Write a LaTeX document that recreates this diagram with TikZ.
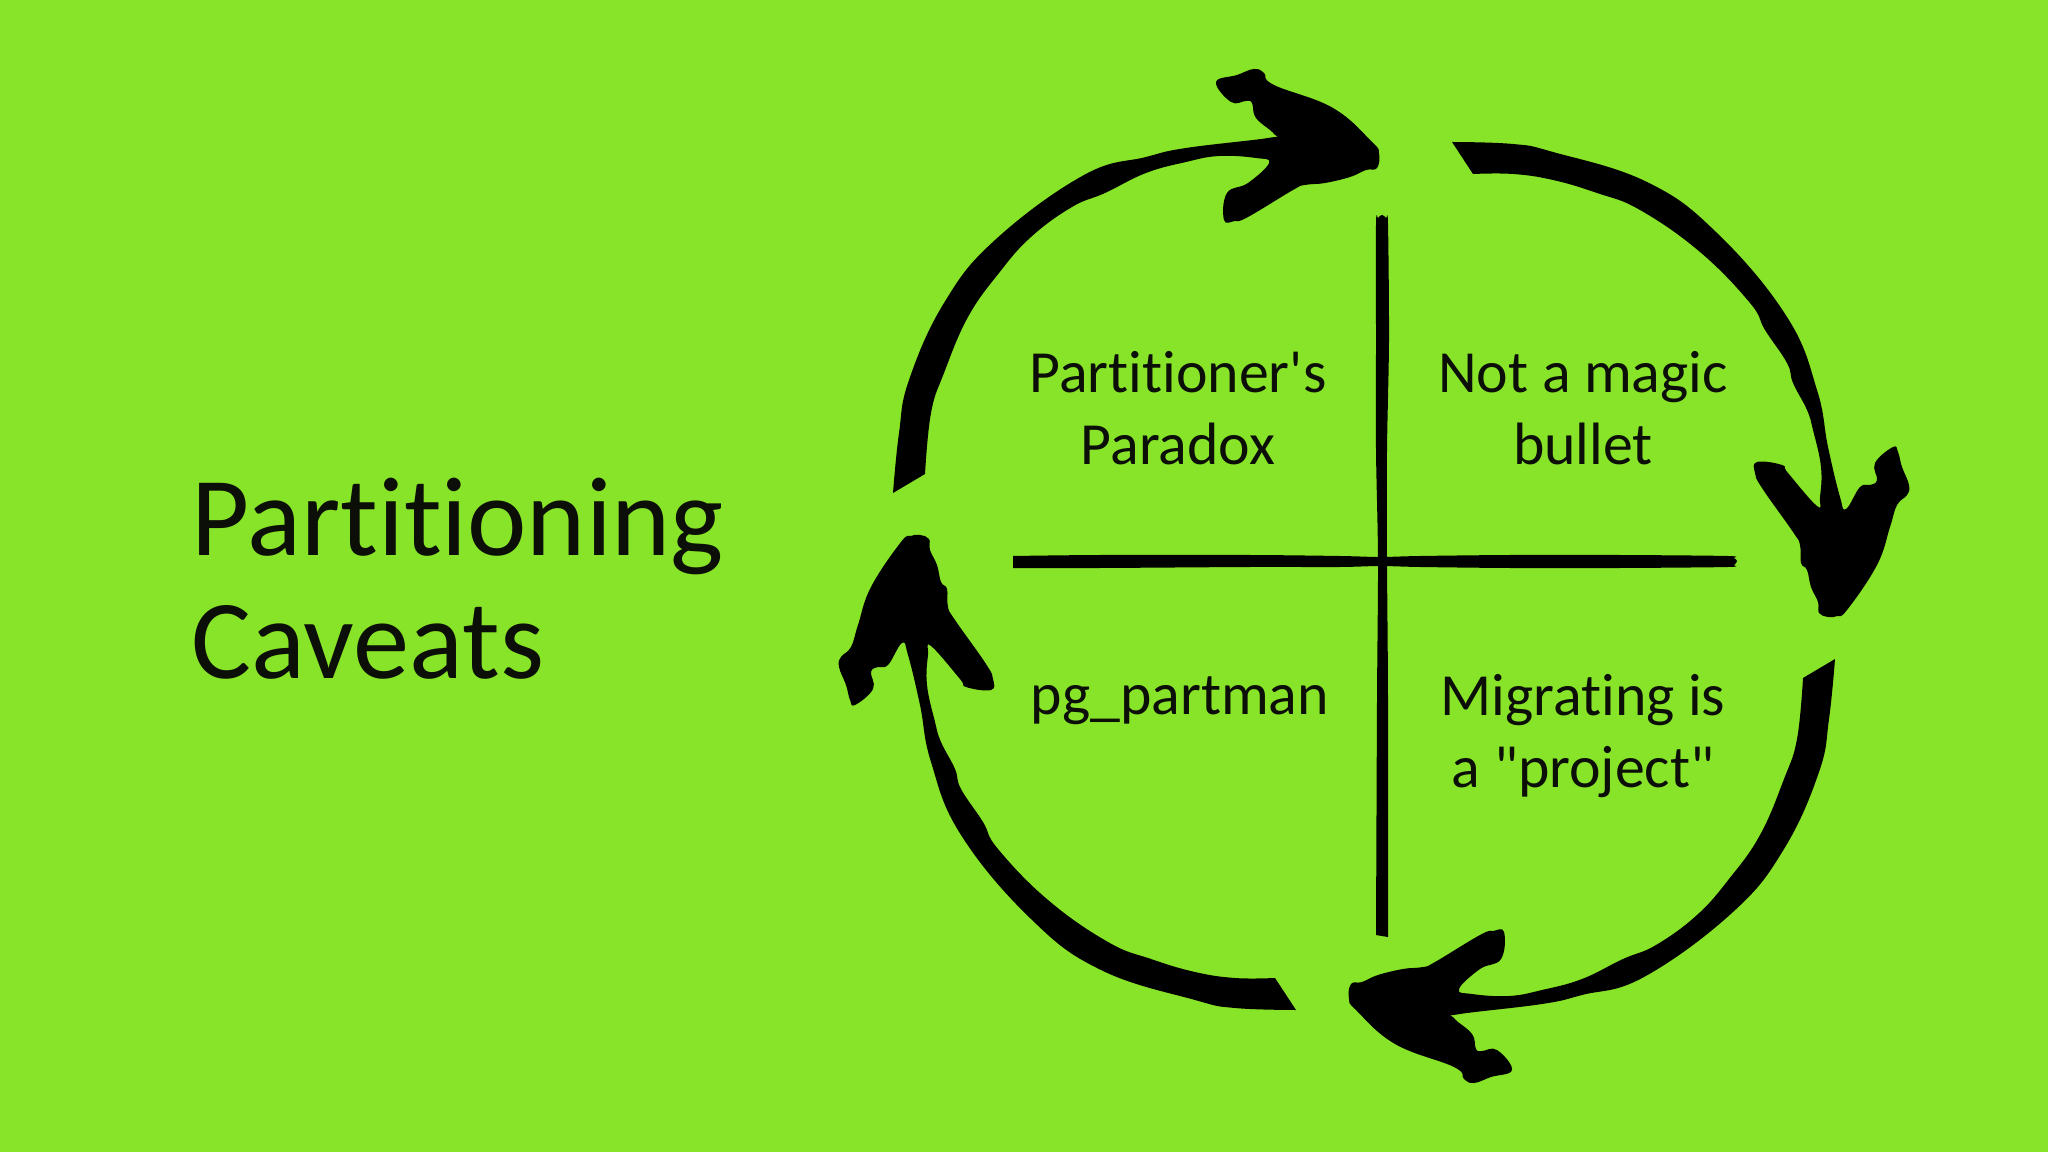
\documentclass[tikz,border=0pt]{standalone}
\usepackage{fontspec}
\newfontfamily\slidefont[Ligatures=NoCommon]{Carlito}
\definecolor{slidegreen}{HTML}{88E428}
\definecolor{inkblack}{HTML}{000000}
\definecolor{textblack}{HTML}{0C0F08}

\newcommand{\toparrow}{
   \fill[arrowfill] plot[smooth, tension=.7] coordinates {
      (893,493) (899,433) (909,380) (944,303) (995,240) (1084,175) (1146,157) (1186,148)
      (1268,138) (1274,134) (1256,118) (1252,103) (1246,101) (1231,102) (1216,82) (1237,75)
      (1254,69) (1264,73) (1274,85) (1333,108) (1372,142) (1379,153) (1377,168) (1366,170)
      (1350,177) (1325,183) (1305,185) (1293,190) (1248,217) (1235,221) (1224,220) (1227,193)
      (1248,183) (1269,163) (1256,158) (1219,156) (1186,162) (1146,173) (1105,193) (1072,207)
      (1031,237) (999,273) (968,317) (944,373) (931,413) (925,474)
   } -- cycle;
}
\newcommand{\rightarrowshape}{
   \fill[arrowfill] plot[smooth, tension=.7] coordinates {
      (1452,142) (1513,144) (1553,152) (1647,182) (1717,233) (1787,317) (1817,390) (1828,447)
      (1840,497) (1846,509) (1860,487) (1870,485) (1877,480) (1875,463) (1893,447) (1898,452)
      (1902,467) (1909,485) (1907,495) (1897,505) (1890,527) (1877,565) (1847,610) (1837,616)
      (1828,617) (1819,613) (1818,602) (1811,587) (1807,570) (1801,563) (1800,545) (1793,532)
      (1762,488) (1755,473) (1757,462) (1782,465) (1788,473) (1817,506) (1820,497) (1821,467)
      (1813,430) (1807,410) (1793,383) (1787,363) (1765,330) (1750,303) (1700,252) (1640,210)
      (1597,193) (1553,180) (1513,174) (1473,174)
   } -- cycle;
}

\begin{document}
\begin{tikzpicture}[x=0.01cm, y=-0.01cm]
   \tikzstyle{arrowfill}=[fill=inkblack]
   \tikzstyle{every node}=[text=textblack, inner sep=0pt, align=center]
   \tikzstyle{label text}=[font=\slidefont\fontsize{17}{20.4}\selectfont]
   \tikzstyle{title text}=[font=\slidefont\fontsize{32}{35}\selectfont, align=left, anchor=west]

   \fill[slidegreen] (0,0) rectangle (2048,1152);

   \toparrow
   \rightarrowshape
   \begin{scope}[rotate around={180:(1364,576)}]
      \toparrow
   \end{scope}
   \begin{scope}[rotate around={180:(1374,576)}]
      \rightarrowshape
   \end{scope}

   \fill[arrowfill] plot[smooth, tension=.5] coordinates {
      (1013,556) (1100,555) (1250,555) (1340,556) (1380,557) (1420,556) (1510,555) (1620,555)
      (1728,556) (1734,558) (1737,561) (1734,565) (1728,567) (1620,568) (1510,568) (1420,567)
      (1380,566) (1340,567) (1250,567) (1100,568) (1013,568)
   } -- cycle;
   \fill[arrowfill] plot[smooth, tension=.5] coordinates {
      (1376,935) (1377,700) (1378,560) (1376,450) (1376,340) (1376,224) (1378,218) (1382,215)
      (1386,218) (1388,224) (1389,340) (1387,450) (1387,560) (1388,700) (1388,937)
   } -- cycle;

   \node[title text] (title) at (191,579) {Partitioning\\Caveats};
   \node[label text] (paradox) at (1178,408) {Partitioner's\\Paradox};
   \node[label text] (bullet) at (1583,408) {Not a magic\\bullet};
   \node[label text] (partman) at (1180,701) {pg\_partman};
   \node[label text] (project) at (1583,736) {Migrating is\\a "project"};
\end{tikzpicture}
\end{document}
